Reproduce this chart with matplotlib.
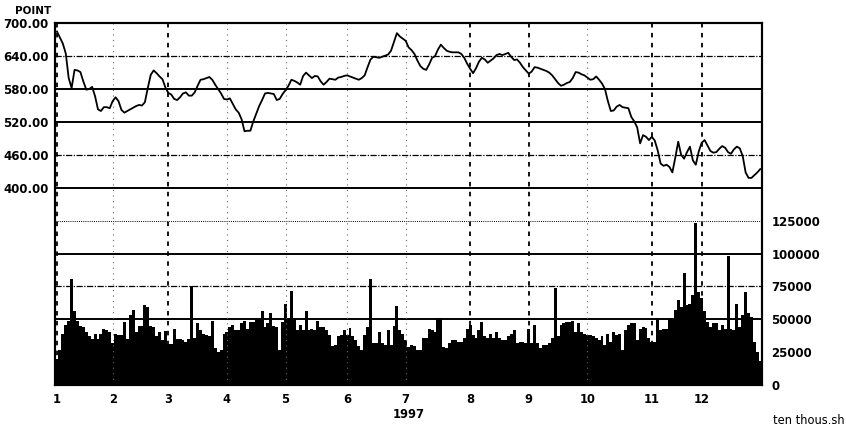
import matplotlib
matplotlib.use("Agg")
import matplotlib.pyplot as plt
import numpy as np

# Trading-day index of the first session of each month, 1997
month_labels = ["1", "2", "3", "4", "5", "6", "7", "8", "9", "10", "11", "12"]
month_start = [0, 19, 38, 58, 78, 99, 119, 141, 161, 181, 203, 220]

# Daily closing index (points)
price = [
    685, 674, 663, 645, 600, 582, 615, 614, 611, 594,
    579, 580, 584, 567, 543, 540, 547, 547, 545, 558,
    565, 558, 542, 537, 540, 543, 546, 549, 551, 550,
    556, 582, 606, 614, 609, 603, 598, 583, 573, 570,
    562, 560, 565, 572, 574, 568, 568, 574, 586, 597,
    598, 600, 602, 597, 588, 580, 572, 562, 561, 563,
    553, 543, 537, 525, 503, 504, 504, 521, 535, 549,
    560, 572, 573, 572, 571, 560, 562, 571, 578, 586,
    597, 595, 592, 588, 604, 610, 605, 600, 604, 603,
    594, 588, 593, 599, 598, 597, 601, 602, 604, 605,
    603, 601, 599, 597, 600, 605, 620, 634, 639, 638,
    637, 639, 641, 643, 650, 666, 682, 676, 672, 668,
    656, 651, 644, 632, 622, 617, 615, 625, 637, 640,
    652, 661, 655, 650, 648, 647, 647, 647, 644, 637,
    626, 617, 609, 618, 630, 637, 634, 628, 632, 636,
    642, 644, 642, 644, 646, 639, 633, 634, 628, 620,
    614, 608, 612, 620, 619, 617, 615, 613, 610, 605,
    598, 591, 586, 588, 591, 593, 600, 611, 610, 607,
    605, 601, 597, 598, 603, 597, 590, 580, 558, 540,
    541, 548, 551, 547, 546, 545, 529, 521, 510, 481,
    496, 493, 487, 493, 486, 468, 444, 440, 442, 438,
    428, 455, 484, 460, 453, 465, 475, 450, 442, 466,
    482, 487, 477, 467, 464, 465, 471, 476, 473, 465,
    462, 470, 475, 472, 458, 428, 418, 418, 423, 428,
    434,
]

# Daily turnover (ten thousand shares)
volume = [
    20000, 27000, 39000, 46000, 49000, 81000, 56000, 49000, 45000, 44000,
    40000, 37000, 35000, 39000, 35000, 39000, 43000, 42000, 40000, 32000,
    39000, 38000, 38000, 48000, 35000, 53000, 57000, 40000, 45000, 45000,
    61000, 59000, 45000, 44000, 37000, 40000, 34000, 41000, 31000, 31000,
    43000, 35000, 35000, 34000, 33000, 35000, 75000, 36000, 47000, 42000,
    39000, 38000, 37000, 49000, 28000, 25500, 27000, 39000, 40000, 44000,
    45500, 42000, 42000, 47000, 49000, 43000, 48000, 48000, 49500, 49500,
    56000, 44500, 47000, 54500, 45000, 44000, 27000, 48000, 62000, 51000,
    71500, 50000, 42000, 46000, 42000, 56000, 42000, 43000, 42000, 49000,
    44500, 44000, 42000, 38000, 30000, 30500, 37000, 38000, 42000, 38000,
    43500, 37000, 34000, 30000, 27000, 38000, 44000, 81000, 32000, 32000,
    40000, 32000, 30500, 42000, 30500, 45000, 60000, 42000, 39000, 34000,
    29000, 30500, 29500, 27000, 27000, 35500, 35500, 43000, 42000, 40000,
    51000, 51000, 29000, 28500, 32000, 34000, 34000, 33000, 33000, 36000,
    43000, 45500, 38000, 35500, 42000, 48000, 37000, 35500, 39000, 36000,
    40000, 36000, 34000, 34000, 37000, 39000, 42000, 32000, 33000, 33000,
    32000, 43000, 32000, 45500, 32000, 28500, 30500, 30500, 32000, 35500,
    73500, 37000, 46000, 47500, 48000, 48000, 49000, 40500, 47000, 40500,
    39000, 38000, 38000, 37000, 36000, 34000, 37000, 30500, 39000, 33000,
    40500, 38000, 39000, 27000, 42000, 45500, 47500, 47500, 34000, 43000,
    44500, 43500, 35500, 33000, 33000, 51000, 42000, 43000, 43000, 50500,
    51000, 57000, 64500, 59500, 85000, 61000, 62000, 68500, 123000, 71000,
    66000, 56000, 48000, 44500, 47000, 47000, 42000, 45500, 43000, 98000,
    43000, 42000, 61500, 44500, 53000, 70500, 54500, 52000, 33000, 25500,
    18000,
]

price_ticks = [400, 460, 520, 580, 640, 700]
volume_ticks = [0, 25000, 50000, 75000, 100000, 125000]

plt.rcParams["font.family"] = ["DejaVu Sans"]
FS = 8.3

fig = plt.figure(figsize=(8.46, 4.28), dpi=100)
ax = fig.add_axes([0.0656, 0.1002, 0.8348, 0.8454])
ax2 = ax.twinx()

days = np.arange(len(price))
ax.set_xlim(-0.5, len(price) - 0.5)
# Price occupies the upper band (400-700), volume the lower band (0-125000)
ax.set_ylim(40, 700)
ax2.set_ylim(0, 275000)

# Horizontal guides
price_styles = {640: ((0, (5, 1.2, 1, 1.2)), 0.9), 580: ("-", 1.4), 520: ("-", 1.4),
                460: ((0, (5, 1.2, 1, 1.2)), 0.9), 400: ("-", 1.4)}
for lvl, (ls, lw) in price_styles.items():
    ax.axhline(lvl, color="black", ls=ls, lw=lw, zorder=1)
vol_styles = {125000: ((0, (1, 1.2)), 0.7), 100000: ("-", 1.4),
              75000: ((0, (5, 1.2, 1, 1.2)), 0.9), 50000: ("-", 1.4)}
for lvl, (ls, lw) in vol_styles.items():
    ax2.axhline(lvl, color="black", ls=ls, lw=lw, zorder=1)

# Month separators
heavy = {"1", "3", "8", "9", "11", "12"}
for pos, lab in zip(month_start, month_labels):
    if lab in heavy:
        ax.axvline(pos, color="black", ls=(0, (2.5, 3)), lw=1.3, zorder=1)
    else:
        ax.axvline(pos, color="#666666", ls=(0, (1, 4)), lw=0.8, zorder=1)

ax2.bar(days, volume, width=1.0, color="black", linewidth=0, zorder=2)
ax.plot(days, price, color="black", lw=1.3, zorder=3)
ax.set_zorder(ax2.get_zorder() + 1)
ax.patch.set_visible(False)

for a in (ax, ax2):
    for s in a.spines.values():
        s.set_linewidth(1.5)
        s.set_color("black")

ax.set_yticks(price_ticks)
ax.set_yticklabels([f"{v:.2f}" for v in price_ticks], fontsize=8.5,
                   fontweight="semibold")
ax.tick_params(axis="y", length=0, pad=5)

ax2.set_yticks(volume_ticks)
ax2.set_yticklabels([str(v) for v in volume_ticks], fontsize=8.5,
                    fontweight="semibold")
ax2.tick_params(axis="y", length=0, pad=7)

ax.set_xticks(month_start)
ax.set_xticklabels(month_labels, fontsize=FS, fontweight="bold")
ax.tick_params(axis="x", length=0, pad=6)
ax.set_xlabel("1997", fontsize=FS, fontweight="bold", labelpad=1)

fig.text(15 / 846, 1 - 11.5 / 428, "POINT", fontsize=7.5, fontweight="bold",
         ha="left", va="center")
fig.text(773 / 846, 1 - 420 / 428, "ten thous.sh", fontsize=FS,
         ha="left", va="center")

fig.savefig("out.png", dpi=100)
